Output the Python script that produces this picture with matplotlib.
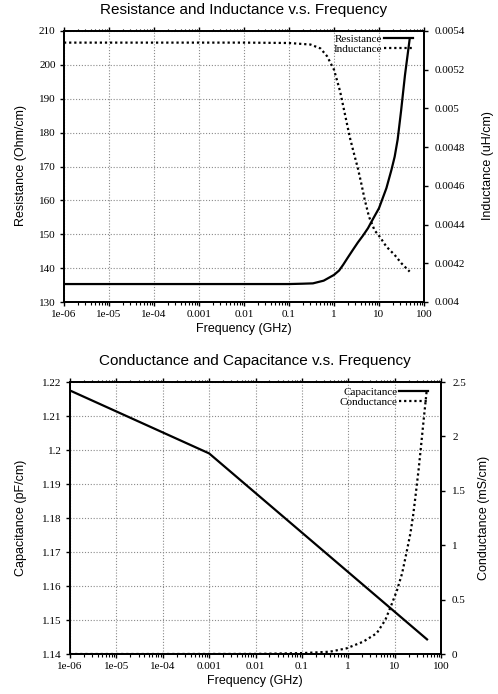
import numpy as np
import matplotlib
matplotlib.use("Agg")
import matplotlib.pyplot as plt
from matplotlib.ticker import FixedLocator, FixedFormatter, FormatStrFormatter, NullFormatter, LogLocator

SERIF = "Liberation Serif"
SANS = "Liberation Sans"

# top panel: R and L vs frequency (GHz)
freq_r = [1e-6, 1e-4, 1e-2, 0.1, 0.2, 0.34, 0.59, 1, 1.3, 1.6, 2, 2.63, 3.4, 4.4,
          5.7, 6.8, 10, 14.6, 18.9, 22.3, 26, 31, 37.8, 48]
resistance = [135.3, 135.3, 135.3, 135.3, 135.4, 135.5, 136.3, 138.0, 139.3, 141.0,
              143.0, 145.4, 147.6, 149.6, 151.8, 153.7, 157.7, 163.6, 169.0, 172.9,
              178.0, 186.5, 197.0, 207.6]
freq_l = [1e-6, 1e-4, 1e-2, 0.1, 0.3, 0.5, 0.7, 1, 1.36, 1.75, 2.25, 2.9, 3.4, 4.06,
          4.8, 6, 8, 10.4, 14.6, 22.3, 31.5, 48]
inductance = [0.00534, 0.00534, 0.00534, 0.005338, 0.00533, 0.00531, 0.00527, 0.0052,
              0.00509, 0.00497, 0.00485, 0.00475, 0.00469, 0.00461, 0.00453, 0.00444,
              0.00437, 0.004337, 0.004286, 0.004243, 0.0042, 0.004157]

# bottom panel: C and G vs frequency (GHz)
freq_c = [1e-6, 1e-3, 50]
capacitance = [1.2175, 1.199, 1.1443]
freq_g = [1e-6, 1e-4, 0.01, 0.1, 0.4, 0.92, 2.1, 4.1, 6.3, 8.8, 11.3, 14.5, 17.9,
          21.9, 25, 28, 33, 37.5, 42.7, 46.5, 49]
conductance = [0, 0, 0.001, 0.008, 0.021, 0.052, 0.113, 0.19, 0.313, 0.466, 0.588,
               0.741, 0.925, 1.109, 1.27, 1.44, 1.70, 1.93, 2.17, 2.32, 2.415]

xticks = [1e-6, 1e-5, 1e-4, 1e-3, 1e-2, 0.1, 1, 10, 100]
xtick_labels = ["1e-06", "1e-05", "1e-04", "0.001", "0.01", "0.1", "1", "10", "100"]

W, H = 498, 694
DOT = (0, (1, 1.3))
GRID = dict(color="#8a8a8a", linestyle=(0, (1, 1.6)), linewidth=0.8)


def setup(ax, ax2, ylim, yticks, ylim2, yticks2):
    ax.set_xscale("log")
    ax.set_xlim(1e-6, 100)
    ax.xaxis.set_major_locator(FixedLocator(xticks))
    ax.xaxis.set_major_formatter(FixedFormatter(xtick_labels))
    ax.xaxis.set_minor_locator(LogLocator(base=10, subs=np.arange(2, 10), numticks=20))
    ax.xaxis.set_minor_formatter(NullFormatter())
    ax.set_ylim(*ylim)
    ax.set_yticks(yticks)
    ax.yaxis.set_major_formatter(FormatStrFormatter("%g"))
    ax2.set_ylim(*ylim2)
    ax2.set_yticks(yticks2)
    ax2.yaxis.set_major_formatter(FormatStrFormatter("%g"))
    ax.grid(True, which="major", **GRID)
    ax.tick_params(axis="x", which="major", direction="out", length=3, width=1,
                   top=True, pad=2.5)
    ax.tick_params(axis="x", which="minor", direction="out", length=1.8, width=0.8, top=True)
    ax.tick_params(axis="y", direction="out", length=3, width=1, pad=3, right=False)
    ax2.tick_params(axis="y", direction="out", length=3, width=1, pad=5)
    for a in (ax, ax2):
        for s in a.spines.values():
            s.set_linewidth(1.3)
        for lab in a.get_xticklabels() + a.get_yticklabels():
            lab.set_fontfamily(SERIF)
            lab.set_fontsize(8)


def legend(ax2, handles, labels, dx, dy):
    ax2.legend(handles, labels, loc="upper right", bbox_to_anchor=(1 - dx, 1 - dy),
               frameon=False, markerfirst=False, prop={"family": SERIF, "size": 8},
               handlelength=2.6, handletextpad=0.15, labelspacing=0.0, borderpad=0,
               borderaxespad=0)


fig = plt.figure(figsize=(W / 100, H / 100), dpi=100)

# ---- top: resistance / inductance
ax = fig.add_axes([64 / W, 1 - 302 / H, 360 / W, 271 / H])
ax2 = ax.twinx()
l1, = ax.plot(freq_r, resistance, color="black", lw=1.6, label="Resistance")
l2, = ax2.plot(freq_l, inductance, color="black", lw=1.6, ls=DOT, label="Inductance")
setup(ax, ax2, (130, 210), np.arange(130, 211, 10),
      (0.004, 0.0054), [0.004, 0.0042, 0.0044, 0.0046, 0.0048, 0.005, 0.0052, 0.0054])
legend(ax2, [l1, l2], ["Resistance", "Inductance"], 11 / 360, 3 / 271)
fig.text(244 / W, 1 - 10 / H, "Resistance and Inductance v.s. Frequency",
         ha="center", va="center", family=SANS, fontsize=11)
fig.text(244 / W, 1 - 329 / H, "Frequency (GHz)", ha="center", va="center",
         family=SANS, fontsize=9)
fig.text(21 / W, 1 - 166 / H, "Resistance (Ohm/cm)", ha="center", va="center",
         rotation=90, family=SANS, fontsize=9)
fig.text(488 / W, 1 - 166 / H, "Inductance (uH/cm)", ha="center", va="center",
         rotation=90, family=SANS, fontsize=9)

# ---- bottom: capacitance / conductance
bx = fig.add_axes([70 / W, 1 - 654 / H, 371 / W, 272 / H])
bx2 = bx.twinx()
c1, = bx.plot(freq_c, capacitance, color="black", lw=1.6, label="Capacitance")
c2, = bx2.plot(freq_g, conductance, color="black", lw=1.6, ls=DOT, label="Conductance")
setup(bx, bx2, (1.14, 1.22), [1.14, 1.15, 1.16, 1.17, 1.18, 1.19, 1.2, 1.21, 1.22],
      (0, 2.5), [0, 0.5, 1, 1.5, 2, 2.5])
legend(bx2, [c1, c2], ["Capacitance", "Conductance"], 13 / 371, 5 / 272)
fig.text(255 / W, 1 - 361 / H, "Conductance and Capacitance v.s. Frequency",
         ha="center", va="center", family=SANS, fontsize=11)
fig.text(255 / W, 1 - 681 / H, "Frequency (GHz)", ha="center", va="center",
         family=SANS, fontsize=9)
fig.text(21 / W, 1 - 518 / H, "Capacitance (pF/cm)", ha="center", va="center",
         rotation=90, family=SANS, fontsize=9)
fig.text(484 / W, 1 - 518 / H, "Conductance (mS/cm)", ha="center", va="center",
         rotation=90, family=SANS, fontsize=9)

fig.savefig("out.png", dpi=100)
